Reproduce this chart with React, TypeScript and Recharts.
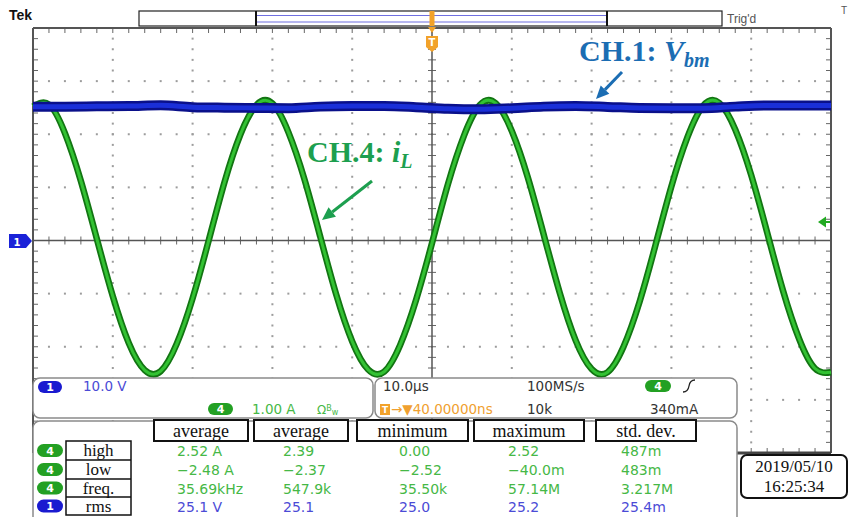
import React from "react";
import { LineChart, Line, XAxis, YAxis, ReferenceLine } from "recharts";

// sample instants (µs), 10 µs/div, trigger at centre
const sampleTimesUs = [
  -50, -48, -46, -44, -42, -40, -38, -36, -34, -32, -30, -28, -26, -24, -22, -20, -18,
  -16, -14, -12, -10, -8, -6, -4, -2, 0, 2, 4, 6, 8, 10, 12, 14, 16, 18, 20, 22, 24, 26,
  28, 30, 32, 34, 36, 38, 40, 42, 44, 46, 48, 50,
];

// CH.4 inductor current iL (A), 1.00 A/div
const ch4Current = [
  2.52, 2.56, 2.02, 1.12, 0.03, -1.05, -1.93, -2.44, -2.46, -1.95, -1.09, -0.01, 1.1,
  2.0, 2.55, 2.58, 2.04, 1.16, 0.07, -1.02, -1.9, -2.43, -2.47, -1.97, -1.12, -0.05,
  1.06, 1.97, 2.55, 2.58, 2.06, 1.19, 0.11, -0.98, -1.88, -2.42, -2.48, -2.0, -1.16,
  -0.09, 1.02, 1.94, 2.54, 2.59, 2.09, 1.23, 0.15, -0.95, -1.85, -2.41, -2.48,
];

// CH.1 Vbm (V), 10.0 V/div
const ch1TimesUs = [
  -50, -46, -42, -38, -34, -30, -26, -22, -18, -14, -10, -6, -2, 2, 6, 10, 14, 18, 22,
  26, 30, 34, 38, 42, 46, 50,
];
const ch1Volts = [
  25.2, 25.2, 25.25, 25.3, 25.45, 25.1, 25.0, 24.95, 24.9, 25.2, 25.3, 25.3, 25.1, 24.8,
  24.7, 24.9, 25.2, 25.3, 25.15, 24.95, 24.9, 24.9, 25.2, 25.4, 25.4, 25.4,
];

// measurement readout
const measHeaders = ["average", "average", "minimum", "maximum", "std. dev."];
const measRows = ["high", "low", "freq.", "rms"];
const measChannels = ["4", "4", "4", "1"];
const measValues = [
  ["2.52 A", "2.39", "0.00", "2.52", "487m"],
  ["\u22122.48 A", "\u22122.37", "\u22122.52", "\u221240.0m", "483m"],
  ["35.69kHz", "547.9k", "35.50k", "57.14M", "3.217M"],
  ["25.1 V", "25.1", "25.0", "25.2", "25.4m"],
];

const data = sampleTimesUs.map((t, i) => {
  const k = ch1TimesUs.indexOf(t);
  return { t, il: ch4Current[i], vbm: k >= 0 ? ch1Volts[k] : null };
});

// screen geometry: 10 x 8 divisions
const MARGIN = { top: 28, right: 19, bottom: 64, left: 33 };
const PL = MARGIN.left;
const PT = MARGIN.top;
const PW = 850 - MARGIN.left - MARGIN.right;
const PH = 517 - MARGIN.top - MARGIN.bottom;
const CX = PL + PW / 2;
const CY = PT + PH / 2;

const GREEN = "#33c233";
const GREEN_DARK = "#127512";
const BLUE = "#1a2fd8";
const BLUE_DARK = "#0a108a";
const TXT_GREEN = "#46b846";
const TXT_BLUE = "#4b4bd6";
const SANS = "'DejaVu Sans', sans-serif";
const SERIF = "'Liberation Serif', 'Times New Roman', serif";

const range = (n: number) => Array.from({ length: n + 1 }, (_, i) => i);

// dotted graticule + minor ticks, drawn behind the chart
const Graticule = () => {
  const stepX = PW / 50;
  const stepY = PH / 40;
  const items: any[] = [];
  [1, 2, 3, 4, 6, 7, 8, 9].forEach((d) => {
    const x = PL + (d * PW) / 10;
    range(40).forEach((k) => items.push(<rect key={`v${d}-${k}`} x={x - 1} y={PT + k * stepY - 1} width={2} height={2} fill="#9c9c9c" />));
  });
  [1, 2, 3, 5, 6, 7].forEach((d) => {
    const y = PT + (d * PH) / 8;
    range(50).forEach((k) => items.push(<rect key={`h${d}-${k}`} x={PL + k * stepX - 1} y={y - 1} width={2} height={2} fill="#9c9c9c" />));
  });
  range(50).forEach((k) => {
    const x = PL + k * stepX;
    items.push(<line key={`cx${k}`} x1={x} x2={x} y1={CY - 4} y2={CY + 4} stroke="#666" />);
    items.push(<line key={`tx${k}`} x1={x} x2={x} y1={PT} y2={PT + 5} stroke="#666" />);
    items.push(<line key={`bx${k}`} x1={x} x2={x} y1={PT + PH - 5} y2={PT + PH} stroke="#666" />);
  });
  range(40).forEach((k) => {
    const y = PT + k * stepY;
    items.push(<line key={`cy${k}`} x1={CX - 4} x2={CX + 4} y1={y} y2={y} stroke="#666" />);
    items.push(<line key={`ly${k}`} x1={PL} x2={PL + 5} y1={y} y2={y} stroke="#666" />);
    items.push(<line key={`ry${k}`} x1={PL + PW - 5} x2={PL + PW} y1={y} y2={y} stroke="#666" />);
  });
  return (
    <svg width={850} height={517} style={{ position: "absolute", left: 0, top: 0 }}>
      {items}
    </svg>
  );
};

const Pill = ({ x, y, w, h, color, label }: any) => (
  <g>
    <rect x={x} y={y} width={w} height={h} rx={h / 2} fill={color} />
    <text x={x + w / 2} y={y + h - 2.2} textAnchor="middle" fill="#fff" fontSize={11} fontWeight="bold" fontFamily={SANS}>
      {label}
    </text>
  </g>
);

const Arrow = ({ x1, y1, x2, y2, color }: any) => {
  const dx = x2 - x1;
  const dy = y2 - y1;
  const len = Math.sqrt(dx * dx + dy * dy);
  const ux = dx / len;
  const uy = dy / len;
  const bx = x2 - ux * 13;
  const by = y2 - uy * 13;
  const pts = `${x2},${y2} ${bx - uy * 6},${by + ux * 6} ${bx + uy * 6},${by - ux * 6}`;
  return (
    <g>
      <line x1={x1} y1={y1} x2={bx} y2={by} stroke={color} strokeWidth={3} />
      <polygon points={pts} fill={color} />
    </g>
  );
};

const headerBoxes = [
  [154, 248],
  [254, 348],
  [357, 468],
  [474, 584],
  [596, 696],
];
const valueX = [177, 283, 399, 508, 621];
const rowBase = [456, 475, 494, 512];
const rowTop = [441, 460, 479, 497, 515];

const Overlay = () => (
  <svg width={850} height={517} style={{ position: "absolute", left: 0, top: 0, pointerEvents: "none" }}>
    {/* top status bar */}
    <text x={9} y={20} fontFamily="'Liberation Sans', sans-serif" fontWeight="bold" fontSize={14} fill="#111">Tek</text>
    <rect x={139} y={11} width={583} height={15} fill="#fff" stroke="#222" strokeWidth={1.2} />
    <line x1={257} x2={606} y1={15.5} y2={15.5} stroke="#6f6fe0" strokeWidth={1.2} />
    <line x1={257} x2={606} y1={22} y2={22} stroke="#6f6fe0" strokeWidth={1.2} />
    <line x1={256} x2={256} y1={11} y2={26} stroke="#111" strokeWidth={2} />
    <line x1={607} x2={607} y1={11} y2={26} stroke="#111" strokeWidth={2} />
    <rect x={429.5} y={11} width={5} height={15} fill="#f2a22a" />
    <polygon points="428,27 436,27 432,33" fill="#f2a22a" />
    <polygon points="426,36 438,36 438,47 432,52 426,47" fill="#f2a22a" />
    <text x={432} y={46} textAnchor="middle" fontSize={10} fontWeight="bold" fill="#fff" fontFamily={SANS}>T</text>
    <text x={727} y={23} fontSize={12} fill="#555" fontFamily="'Liberation Sans', sans-serif">Trig'd</text>
    <text x={841} y={14} fontSize={10} fill="#555" fontFamily="'Liberation Sans', sans-serif">T</text>

    {/* channel 1 ground marker */}
    <polygon points="9,234 26,234 32,241 26,248 9,248" fill="#1a22d8" />
    <text x={17} y={245.5} textAnchor="middle" fontSize={10} fontWeight="bold" fill="#fff" fontFamily={SANS}>1</text>
    {/* trigger level */}
    <polygon points="818,222 826,216.5 826,227.5" fill="#22aa22" />
    <line x1={824} x2={830} y1={222} y2={222} stroke="#22aa22" strokeWidth={2} />

    {/* annotations */}
    <text x={579} y={61} fontFamily={SERIF} fontWeight="bold" fontSize={30} fill="#1b6db3">
      CH.1: <tspan fontStyle="italic">V</tspan>
      <tspan fontStyle="italic" fontSize={20} dy={6}>bm</tspan>
    </text>
    <Arrow x1={622} y1={72} x2={596} y2={99} color="#1b6db3" />
    <text x={307} y={162} fontFamily={SERIF} fontWeight="bold" fontSize={30} fill="#1d9f4f">
      CH.4: <tspan fontStyle="italic">i</tspan>
      <tspan fontStyle="italic" fontSize={20} dy={6}>L</tspan>
    </text>
    <Arrow x1={372} y1={181} x2={322} y2={220} color="#1d9f4f" />

    {/* vertical settings panel */}
    <rect x={33} y={378} width={340} height={40} rx={7} fill="#fff" stroke="#8a8a8a" strokeWidth={1.5} />
    <Pill x={38} y={381} w={24} h={12} color="#1a1ad0" label="1" />
    <text x={83} y={391} fontSize={13.5} fill={TXT_BLUE} fontFamily={SANS}>10.0 V</text>
    <Pill x={208} y={403} w={25} h={12} color="#23a023" label="4" />
    <text x={252} y={414} fontSize={13.5} fill={TXT_GREEN} fontFamily={SANS}>1.00 A</text>
    <text x={317} y={414} fontSize={12} fill={TXT_GREEN} fontFamily={SANS}>
      Ω<tspan fontSize={8} dy={-3}>B</tspan>
      <tspan fontSize={8} dy={4}>w</tspan>
    </text>

    {/* horizontal / trigger panel */}
    <rect x={375} y={378} width={362} height={40} rx={7} fill="#fff" stroke="#8a8a8a" strokeWidth={1.5} />
    <text x={383} y={391} fontSize={13.5} fill="#333" fontFamily={SANS}>10.0µs</text>
    <rect x={380} y={404} width={10} height={11} fill="#f2a22a" />
    <text x={385} y={413} textAnchor="middle" fontSize={9} fontWeight="bold" fill="#fff" fontFamily={SANS}>T</text>
    <text x={391} y={414} fontSize={13.5} fill="#f0a030" fontFamily={SANS}>→▼40.00000ns</text>
    <text x={527} y={391} fontSize={13.5} fill="#333" fontFamily={SANS}>100MS/s</text>
    <text x={527} y={414} fontSize={13.5} fill="#333" fontFamily={SANS}>10k</text>
    <Pill x={645} y={380} w={26} h={12} color="#23a023" label="4" />
    <path d="M683,392 Q688,392 689,386 Q690,380 695,380" stroke="#222" strokeWidth={1.3} fill="none" />
    <text x={650} y={414} fontSize={13.5} fill="#333" fontFamily={SANS}>340mA</text>

    {/* measurement panel */}
    <rect x={33} y={421} width={704} height={110} rx={7} fill="#fff" stroke="#8a8a8a" strokeWidth={1.5} />
    {measHeaders.map((h, i) => (
      <g key={"h" + i}>
        <rect x={headerBoxes[i][0]} y={420} width={headerBoxes[i][1] - headerBoxes[i][0]} height={21} fill="#fff" stroke="#111" strokeWidth={2} />
        <text x={(headerBoxes[i][0] + headerBoxes[i][1]) / 2} y={437} textAnchor="middle" fontSize={18} fill="#111" fontFamily={SERIF}>{h}</text>
      </g>
    ))}
    <rect x={66} y={441} width={65} height={74} fill="#fff" stroke="#111" strokeWidth={1.5} />
    {measRows.map((r, i) => (
      <g key={"r" + i}>
        {i > 0 && <line x1={66} x2={131} y1={rowTop[i]} y2={rowTop[i]} stroke="#111" strokeWidth={1.5} />}
        <text x={98.5} y={rowBase[i]} textAnchor="middle" fontSize={17} fill="#111" fontFamily={SERIF}>{r}</text>
        <Pill x={37} y={(rowTop[i] + rowTop[i + 1]) / 2 - 6.5} w={26} h={13} color={measChannels[i] === "1" ? "#1a1ad0" : "#23a023"} label={measChannels[i]} />
        {measValues[i].map((v, j) => (
          <text key={j} x={valueX[j]} y={rowBase[i]} fontSize={14} fill={measChannels[i] === "1" ? TXT_BLUE : TXT_GREEN} fontFamily={SANS}>{v}</text>
        ))}
      </g>
    ))}

    {/* date */}
    <rect x={741} y={455} width={106} height={43} rx={6} fill="#fff" stroke="#111" strokeWidth={2} />
    <text x={794} y={472} textAnchor="middle" fontSize={17} fill="#111" fontFamily={SERIF}>2019/05/10</text>
    <text x={794} y={492} textAnchor="middle" fontSize={17} fill="#111" fontFamily={SERIF}>16:25:34</text>
  </svg>
);

export default function App() {
  return (
    <div style={{ position: "absolute", left: 0, top: 0, width: 850, height: 517, background: "#fff", overflow: "hidden" }}>
      <Graticule />
      <div style={{ position: "absolute", left: 0, top: 0 }}>
        <LineChart width={850} height={517} data={data} margin={MARGIN}>
          <XAxis type="number" dataKey="t" domain={[-50, 50]} hide />
          <YAxis yAxisId="a" type="number" domain={[-4, 4]} hide />
          <YAxis yAxisId="v" type="number" domain={[-40, 40]} hide />

          {/* centre cross and screen border */}
          <ReferenceLine yAxisId="a" x={0} stroke="#555" strokeWidth={1.5} />
          <ReferenceLine yAxisId="a" y={0} stroke="#555" strokeWidth={1.5} />
          <ReferenceLine yAxisId="a" x={-50} stroke="#555" strokeWidth={2} />
          <ReferenceLine yAxisId="a" x={50} stroke="#555" strokeWidth={2} />
          <ReferenceLine yAxisId="a" y={4} stroke="#555" strokeWidth={2} />
          <ReferenceLine yAxisId="a" y={-4} stroke="#444" strokeWidth={3} />

          <Line yAxisId="a" type="natural" dataKey="il" stroke={GREEN_DARK} strokeWidth={6.5} dot={false} activeDot={false} isAnimationActive={false} />
          <Line yAxisId="a" type="natural" dataKey="il" stroke={GREEN} strokeWidth={3} dot={false} activeDot={false} isAnimationActive={false} />
          <Line yAxisId="v" type="monotone" dataKey="vbm" connectNulls stroke={BLUE_DARK} strokeWidth={10} dot={false} activeDot={false} isAnimationActive={false} />
          <Line yAxisId="v" type="monotone" dataKey="vbm" connectNulls stroke={BLUE} strokeWidth={5} dot={false} activeDot={false} isAnimationActive={false} />
        </LineChart>
      </div>
      <Overlay />
    </div>
  );
}
